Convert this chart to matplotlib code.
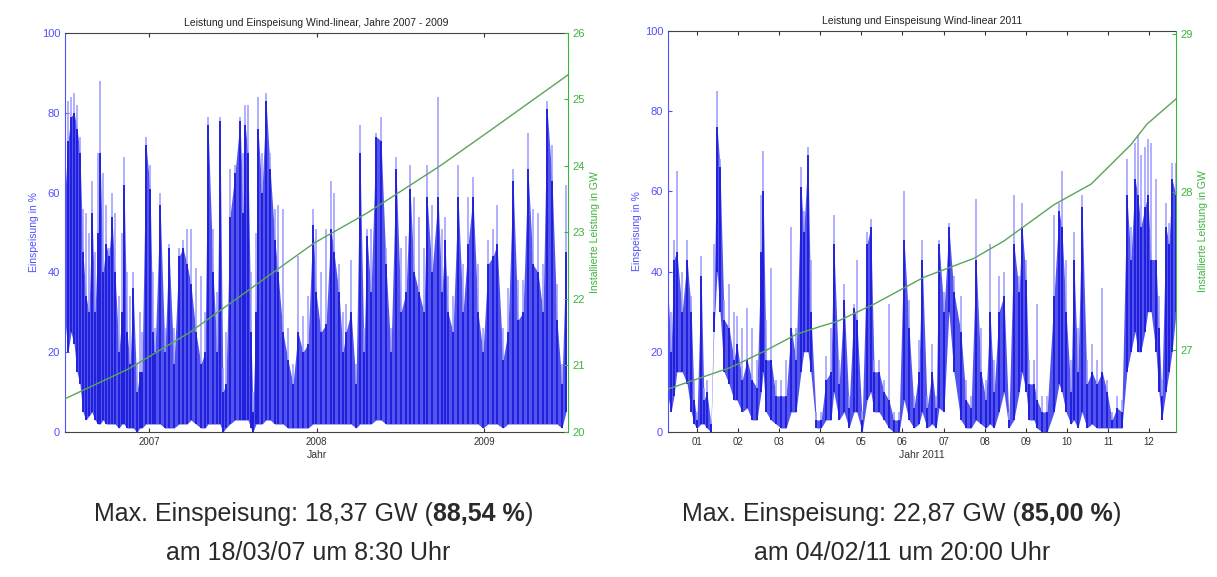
import matplotlib
matplotlib.use("Agg")
import matplotlib.pyplot as plt
import numpy as np

plt.rcParams['font.family'] = ['Liberation Sans', 'DejaVu Sans']

# ---- 2007 - 2009 (time in years since 01.01.2007) ----
t07 = [0.00, 0.018, 0.036, 0.054, 0.072, 0.089, 0.107, 0.125, 0.143, 0.161, 0.179, 0.197, 0.209, 0.227,
       0.245, 0.262, 0.280, 0.298, 0.322, 0.340, 0.352, 0.370, 0.388, 0.406, 0.429, 0.447, 0.459, 0.483,
       0.507, 0.525, 0.537, 0.567, 0.596, 0.620, 0.650, 0.680, 0.704, 0.728, 0.751, 0.781, 0.811, 0.835,
       0.853, 0.883, 0.907, 0.924, 0.942, 0.960, 0.984, 1.014, 1.044, 1.062, 1.074, 1.091, 1.109, 1.121,
       1.139, 1.151, 1.175, 1.199, 1.223, 1.252, 1.270, 1.300, 1.330, 1.360, 1.390, 1.419, 1.449, 1.479,
       1.497, 1.527, 1.557, 1.586, 1.604, 1.634, 1.658, 1.676, 1.706, 1.736, 1.759, 1.783, 1.801, 1.825,
       1.855, 1.885, 1.914, 1.944, 1.974, 2.004, 2.034, 2.058, 2.082, 2.111, 2.141, 2.159, 2.189, 2.225,
       2.248, 2.266, 2.284, 2.314, 2.344, 2.374, 2.404, 2.433, 2.463, 2.493, 2.523, 2.553, 2.577, 2.612,
       2.642, 2.672, 2.702, 2.732, 2.761, 2.791, 2.821, 2.851, 2.875, 2.905, 2.934, 2.964, 2.988]
hi07 = [70, 83, 84, 85, 82, 74, 56, 55, 50, 63, 45, 70, 88, 65,
        57, 46, 60, 55, 34, 50, 69, 40, 34, 40, 17, 30, 25, 74,
        67, 40, 26, 60, 26, 47, 26, 46, 48, 51, 51, 41, 39, 30,
        79, 51, 35, 79, 16, 25, 66, 67, 79, 70, 82, 82, 40, 10,
        50, 84, 70, 85, 70, 56, 57, 56, 26, 17, 44, 29, 34, 56,
        51, 40, 51, 63, 60, 42, 30, 32, 43, 17, 77, 26, 51, 51,
        75, 79, 46, 26, 69, 46, 49, 67, 59, 54, 46, 67, 57, 84,
        51, 54, 39, 34, 67, 42, 59, 64, 42, 26, 48, 51, 57, 26,
        36, 66, 38, 38, 75, 56, 55, 42, 83, 72, 37, 17, 62]
core07 = [60, 73, 79, 80, 76, 70, 45, 34, 30, 55, 30, 50, 70, 40,
          47, 44, 54, 40, 20, 30, 62, 25, 17, 36, 10, 15, 15, 72,
          61, 25, 20, 57, 20, 46, 17, 44, 46, 42, 37, 25, 17, 20,
          77, 40, 20, 78, 10, 12, 54, 65, 78, 55, 77, 70, 25, 5,
          30, 76, 60, 83, 66, 48, 40, 25, 18, 12, 25, 20, 22, 52,
          35, 25, 27, 51, 45, 35, 20, 25, 30, 12, 70, 20, 49, 35,
          74, 73, 42, 20, 66, 30, 35, 61, 40, 35, 30, 59, 40, 59,
          35, 48, 30, 25, 59, 30, 47, 59, 30, 20, 42, 44, 47, 18,
          25, 63, 28, 30, 66, 42, 40, 30, 81, 63, 28, 12, 45]
lo07 = [28, 20, 25, 22, 15, 12, 5, 3, 4, 5, 3, 2, 2, 3,
        2, 2, 2, 2, 1, 2, 2, 1, 1, 1, 0, 1, 1, 2,
        2, 2, 2, 2, 1, 1, 1, 2, 2, 2, 3, 2, 1, 1,
        2, 2, 2, 2, 0, 1, 2, 3, 3, 3, 3, 3, 1, 0,
        2, 2, 2, 3, 3, 2, 2, 2, 1, 1, 1, 1, 1, 2,
        2, 2, 2, 2, 2, 2, 2, 2, 2, 1, 2, 2, 2, 2,
        3, 3, 2, 2, 2, 2, 2, 2, 2, 2, 2, 2, 2, 2,
        2, 2, 2, 2, 2, 2, 2, 2, 2, 1, 2, 2, 2, 1,
        2, 2, 2, 2, 2, 2, 2, 2, 2, 2, 2, 1, 5]
cap_t07 = [0.0, 0.38, 0.745, 1.485, 1.80, 2.236, 2.517, 3.0]
cap07 = [20.5, 20.95, 21.5, 22.84, 23.29, 24.0, 24.5, 25.37]
year_ticks = [0.5, 1.5, 2.5]
year_labels = ['2007', '2008', '2009']

# ---- 2011 (time in months) ----
t11 = [0.27, 0.37, 0.44, 0.51, 0.64, 0.76, 0.86, 0.93, 1.00, 1.10, 1.17, 1.24, 1.34, 1.41, 1.49, 1.56,
       1.66, 1.78, 1.90, 1.97, 2.10, 2.22, 2.34, 2.46, 2.56, 2.61, 2.68, 2.80, 2.92, 3.04, 3.17, 3.29,
       3.41, 3.53, 3.60, 3.70, 3.77, 3.90, 4.02, 4.14, 4.26, 4.33, 4.46, 4.58, 4.70, 4.82, 4.89, 5.02,
       5.14, 5.23, 5.31, 5.43, 5.55, 5.67, 5.79, 5.92, 6.04, 6.16, 6.28, 6.40, 6.48, 6.60, 6.72, 6.82,
       6.89, 7.01, 7.13, 7.25, 7.42, 7.55, 7.67, 7.79, 7.91, 8.03, 8.13, 8.23, 8.35, 8.47, 8.59, 8.71,
       8.84, 8.91, 9.01, 9.08, 9.20, 9.27, 9.40, 9.52, 9.69, 9.81, 9.88, 9.98, 10.10, 10.17, 10.27, 10.37,
       10.49, 10.61, 10.73, 10.86, 10.98, 11.10, 11.22, 11.34, 11.46, 11.56, 11.66, 11.73, 11.80, 11.90,
       11.97, 12.05, 12.17, 12.24, 12.31, 12.41, 12.49, 12.56, 12.66]
hi11 = [52, 30, 48, 65, 40, 48, 34, 13, 5, 44, 11, 13, 3, 47, 85, 68,
        33, 37, 30, 29, 26, 31, 26, 18, 59, 70, 28, 41, 13, 13, 18, 51,
        26, 66, 55, 71, 43, 5, 5, 19, 26, 54, 18, 37, 9, 32, 43, 5,
        50, 53, 18, 18, 13, 32, 5, 5, 60, 33, 9, 23, 48, 9, 22, 9,
        48, 35, 52, 39, 34, 13, 9, 58, 26, 13, 47, 18, 39, 40, 5, 59,
        39, 57, 43, 18, 18, 32, 9, 9, 54, 57, 65, 43, 18, 50, 26, 59,
        18, 22, 18, 36, 13, 5, 9, 8, 68, 51, 72, 74, 69, 71,
        73, 72, 63, 34, 13, 57, 52, 67, 67]
core11 = [40, 20, 43, 45, 30, 43, 30, 8, 3, 39, 8, 10, 2, 30, 76, 66,
          28, 26, 18, 22, 13, 18, 13, 11, 45, 60, 18, 18, 9, 9, 9, 26,
          18, 61, 50, 69, 30, 3, 3, 13, 15, 47, 12, 33, 6, 31, 28, 3,
          47, 51, 15, 15, 10, 8, 3, 3, 48, 26, 6, 15, 43, 6, 15, 6,
          47, 30, 51, 35, 25, 8, 6, 43, 15, 8, 30, 10, 30, 34, 3, 47,
          35, 51, 38, 12, 12, 8, 5, 5, 34, 55, 51, 30, 10, 43, 15, 56,
          12, 15, 12, 15, 10, 3, 6, 5, 59, 43, 63, 59, 51, 56,
          59, 43, 43, 26, 9, 51, 47, 63, 59]
lo11 = [10, 5, 9, 15, 15, 12, 5, 2, 1, 2, 2, 1, 0, 25, 40, 30,
        15, 12, 8, 8, 5, 6, 3, 3, 10, 15, 5, 3, 2, 1, 1, 5,
        5, 15, 20, 20, 15, 1, 1, 3, 3, 10, 3, 5, 1, 5, 5, 0,
        8, 10, 5, 5, 3, 1, 0, 0, 8, 3, 1, 2, 5, 1, 2, 1,
        6, 5, 30, 15, 3, 1, 1, 3, 2, 1, 2, 1, 5, 10, 1, 3,
        10, 15, 10, 3, 3, 1, 0, 0, 5, 12, 10, 5, 2, 3, 1, 5,
        1, 2, 1, 1, 1, 1, 1, 1, 15, 20, 25, 20, 20, 25,
        30, 30, 20, 10, 3, 10, 15, 20, 30]
cap_t11 = [0.27, 1.83, 2.63, 3.43, 4.02, 4.41, 5.31, 6.52, 7.74, 8.47, 9.69, 10.59, 11.56, 11.95, 12.66]
cap11 = [26.75, 26.89, 26.99, 27.10, 27.15, 27.18, 27.29, 27.46, 27.58, 27.69, 27.92, 28.05, 28.30, 28.43, 28.59]
month_ticks = list(range(1, 13))
month_labels = ['%02d' % m for m in month_ticks]

BLUE = '#1a1ae8'
LIGHT = '#9a9aff'
TICKBLUE = '#5050ff'
GREEN = '#5aa55a'
GREENTXT = '#3cb43c'

fig = plt.figure(figsize=(12.17, 5.77), dpi=100)


def panel(rect, t, hi, core, lo, ct, cap, xlim, ylim2, yt2, xt, xl, title, xlabel):
    ax = fig.add_axes(rect)
    ax.vlines(t, lo, hi, color=LIGHT, lw=1.1)
    ax.fill_between(t, lo, core, color='#2828ea', lw=0, alpha=0.8)
    ax.vlines(t, lo, core, color='#0c0cd8', lw=1.2)
    ax.set_xlim(*xlim)
    ax.set_ylim(0, 100)
    ax.set_yticks([0, 20, 40, 60, 80, 100])
    ax.set_xticks(xt)
    ax.set_xticklabels(xl)
    ax.tick_params(axis='x', direction='in', top=True, length=3, labelsize=7, colors='#333333')
    ax.tick_params(axis='y', direction='in', length=3, labelsize=8, colors=TICKBLUE)
    ax.spines['left'].set_color(TICKBLUE)
    ax.spines['right'].set_visible(False)
    for s in ('top', 'bottom'):
        ax.spines[s].set_color('#444444')
    ax.set_ylabel('Einspeisung in %', color=TICKBLUE, fontsize=7.5, labelpad=2)
    ax.set_xlabel(xlabel, fontsize=7.5, color='#333333', labelpad=2)
    ax.set_title(title, fontsize=7.5, color='#222222', pad=5)

    ax2 = ax.twinx()
    ax2.plot(ct, cap, color=GREEN, lw=1.0)
    ax2.set_ylim(*ylim2)
    ax2.set_yticks(yt2)
    ax2.tick_params(axis='y', direction='in', length=3, labelsize=8, colors=GREENTXT)
    ax2.spines['right'].set_color(GREENTXT)
    for s in ('left', 'top', 'bottom'):
        ax2.spines[s].set_visible(False)
    ax2.set_ylabel('Installierte Leistung in GW', color=GREENTXT, fontsize=7.5, labelpad=3)
    return ax


panel([65 / 1217, 145 / 577, 503 / 1217, 399 / 577], t07, hi07, core07, lo07, cap_t07, cap07,
      (0, 3), (20, 26), [20, 21, 22, 23, 24, 25, 26], year_ticks, year_labels,
      'Leistung und Einspeisung Wind-linear, Jahre 2007 - 2009', 'Jahr')
panel([668 / 1217, 145 / 577, 508 / 1217, 401 / 577], t11, hi11, core11, lo11, cap_t11, cap11,
      (0.295, 12.657), (26.48, 29.02), [27, 28, 29], month_ticks, month_labels,
      'Leistung und Einspeisung Wind-linear 2011', 'Jahr 2011')

W, H = 1217, 577
r = fig.canvas.get_renderer()


def mixed(xc, yc, parts, size=18):
    items = [fig.text(0, 1 - yc / H, s, fontsize=size, fontweight=w, ha='left', va='center', color='#2a2a2a')
             for s, w in parts]
    widths = [it.get_window_extent(r).width for it in items]
    x = xc - sum(widths) / 2
    for it, w in zip(items, widths):
        it.set_x(x / W)
        x += w


mixed(314, 514, [('Max. Einspeisung: 18,37 GW (', 'normal'), ('88,54 %', 'bold'), (')', 'normal')])
mixed(308, 553, [('am 18/03/07 um 8:30 Uhr', 'normal')])
mixed(902, 514, [('Max. Einspeisung: 22,87 GW (', 'normal'), ('85,00 %', 'bold'), (')', 'normal')])
mixed(902, 553, [('am 04/02/11 um 20:00 Uhr', 'normal')])

fig.savefig('out.png', dpi=100)
